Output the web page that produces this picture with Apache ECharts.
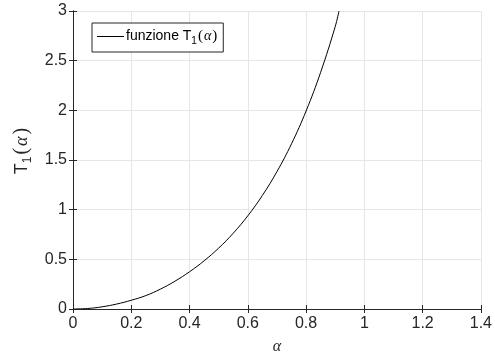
<!DOCTYPE html>
<html>
<head>
<meta charset="utf-8">
<script src="https://cdn.jsdelivr.net/npm/echarts@6/dist/echarts.min.js"></script>
<style>
  html, body { margin: 0; padding: 0; background: #fff; }
  #chart { width: 495px; height: 360px; }
</style>
</head>
<body>
<div id="chart"></div>
<script>
// values
const alpha = [0, 0.05, 0.1, 0.15, 0.2, 0.25, 0.3, 0.35, 0.4, 0.45, 0.5, 0.55, 0.6, 0.65, 0.7, 0.75, 0.8, 0.85, 0.9, 0.913];
const t1 = [0, 0.005, 0.022, 0.05, 0.088, 0.135, 0.2, 0.28, 0.375, 0.485, 0.613, 0.763, 0.938, 1.143, 1.383, 1.663, 1.993, 2.383, 2.843, 3.0];
const xTicks = [0, 0.2, 0.4, 0.6, 0.8, 1, 1.2, 1.4];
const yTicks = [0, 0.5, 1, 1.5, 2, 2.5, 3];

const axisColor = '#262626';
const gridColor = '#e6e6e6';
const font = '"Liberation Sans", Arial, sans-serif';
const serif = '"Liberation Serif", "DejaVu Serif", serif';

const chart = echarts.init(document.getElementById('chart'));

const tickLabel = (v) => String(v);

// box axes on top/right only carry the inward ticks
const boxX = {
  type: 'value', position: 'top', min: 0, max: 1.4, interval: 0.2,
  axisLine: { show: true, lineStyle: { color: axisColor, width: 1 } },
  axisTick: { show: true, inside: true, length: 4, lineStyle: { color: axisColor } },
  axisLabel: { show: false }, splitLine: { show: false },
};
const boxY = {
  type: 'value', position: 'right', min: 0, max: 3, interval: 0.5,
  axisLine: { show: true, lineStyle: { color: axisColor, width: 1 } },
  axisTick: { show: true, inside: true, length: 4, lineStyle: { color: axisColor } },
  axisLabel: { show: false }, splitLine: { show: false },
};

chart.setOption({
  animation: false,
  backgroundColor: '#fff',
  textStyle: { fontFamily: font },
  grid: { left: 73, right: 12, top: 11, bottom: 48 },
  legend: {
    left: 92, top: 23,
    padding: [6, 5, 6, 5],
    itemGap: 0,
    itemWidth: 27, itemHeight: 1,
    icon: 'rect',
    borderColor: axisColor, borderWidth: 1,
    backgroundColor: '#fff',
    itemStyle: { color: '#000' },
    data: ['T1'],
    formatter: () => '{n|funzione T}{s|1}{p|(}{a|α}{p|)}',
    textStyle: {
      padding: [0, 0, 0, -3],
      rich: {
        n: { fontSize: 14, color: '#000', fontFamily: font, lineHeight: 19, verticalAlign: 'middle' },
        s: { fontSize: 10, color: '#000', fontFamily: font, lineHeight: 19, verticalAlign: 'bottom' },
        p: { fontSize: 15, color: '#000', fontFamily: serif, lineHeight: 19, verticalAlign: 'middle', padding: [0, 1, 0, 1] },
        a: { fontSize: 14, color: '#000', fontFamily: serif, fontStyle: 'italic', lineHeight: 19, verticalAlign: 'middle' },
      },
    },
  },
  xAxis: [
    {
      type: 'value', min: 0, max: 1.4, interval: 0.2,
      name: 'α', nameLocation: 'middle', nameGap: 30,
      nameTextStyle: { fontSize: 16, color: axisColor, fontFamily: serif, fontStyle: 'italic' },
      axisLine: { show: true, onZero: false, lineStyle: { color: axisColor, width: 1 } },
      axisTick: { show: true, inside: true, length: 4, lineStyle: { color: axisColor } },
      axisLabel: {
        color: axisColor, fontSize: 16, margin: 7,
        formatter: (v) => (xTicks.includes(+v.toFixed(1)) ? tickLabel(+v.toFixed(1)) : ''),
      },
      splitLine: { show: true, lineStyle: { color: gridColor, width: 1 } },
    },
    boxX,
  ],
  yAxis: [
    {
      type: 'value', min: 0, max: 3, interval: 0.5,
      name: '{n|T}{s|1}{p|(}{a|α}{p|)}', nameLocation: 'middle', nameGap: 38,
      nameTextStyle: {
        padding: [0, 0, 0, 20],
        rich: {
          n: { fontSize: 18, color: axisColor, fontFamily: font, lineHeight: 24, verticalAlign: 'middle' },
          s: { fontSize: 12, color: axisColor, fontFamily: font, lineHeight: 24, verticalAlign: 'bottom' },
          p: { fontSize: 20, color: axisColor, fontFamily: serif, lineHeight: 24, verticalAlign: 'middle', padding: [0, 2, 0, 2] },
          a: { fontSize: 18, color: axisColor, fontFamily: serif, fontStyle: 'italic', lineHeight: 24, verticalAlign: 'middle' },
        },
      },
      axisLine: { show: true, onZero: false, lineStyle: { color: axisColor, width: 1 } },
      axisTick: { show: true, inside: true, length: 4, lineStyle: { color: axisColor } },
      axisLabel: {
        color: axisColor, fontSize: 16, margin: 6,
        formatter: (v) => (yTicks.includes(+v.toFixed(1)) ? tickLabel(+v.toFixed(1)) : ''),
      },
      splitLine: { show: true, lineStyle: { color: gridColor, width: 1 } },
    },
    boxY,
  ],
  series: [
    {
      name: 'T1',
      type: 'line',
      data: alpha.map((a, i) => [a, t1[i]]),
      smooth: 0.4,
      showSymbol: false,
      symbol: 'none',
      clip: true,
      lineStyle: { color: '#000', width: 1 },
      itemStyle: { color: '#000' },
    },
  ],
});
</script>
</body>
</html>
